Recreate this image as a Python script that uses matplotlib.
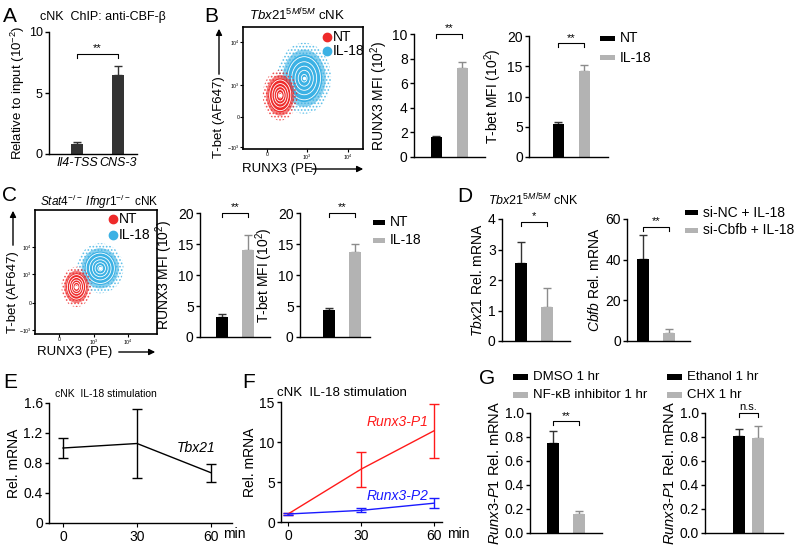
import matplotlib.pyplot as plt
from matplotlib.patches import Ellipse, FancyArrowPatch, Rectangle

plt.rcParams['font.family'] = ['Liberation Sans', 'DejaVu Sans']
plt.rcParams['mathtext.fontset'] = 'custom'
plt.rcParams['mathtext.rm'] = 'Liberation Sans'
plt.rcParams['mathtext.it'] = 'Liberation Sans:italic'
plt.rcParams['mathtext.bf'] = 'Liberation Sans:bold'
plt.rcParams['font.size'] = 8.5
plt.rcParams['axes.linewidth'] = 1.0
plt.rcParams['hatch.linewidth'] = 0.8

BLACK = '#000000'
GRAY = '#b3b3b3'
DARK = '#333333'
RED = '#ee2a2a'
BLUE = '#3bb1e4'

# ---- data ----
A_SITES = ['Il4-TSS', 'CNS-3']
A_VALS = [0.8, 6.5]
A_ERR = [0.15, 0.7]

B_RUNX3 = [1.6, 7.2]
B_RUNX3_ERR = [0.12, 0.55]
B_TBET = [5.4, 14.2]
B_TBET_ERR = [0.45, 0.95]

C_RUNX3 = [3.3, 14.1]
C_RUNX3_ERR = [0.35, 2.3]
C_TBET = [4.3, 13.7]
C_TBET_ERR = [0.35, 1.3]

D_TBX21 = [2.55, 1.12]
D_TBX21_ERR = [0.68, 0.63]
D_CBFB = [40.5, 3.8]
D_CBFB_ERR = [11.5, 2.2]

G_NFKB = [0.75, 0.16]
G_NFKB_ERR = [0.10, 0.02]
G_CHX = [0.81, 0.79]
G_CHX_ERR = [0.06, 0.10]
G_TICKS = [0, 0.2, 0.4, 0.6, 0.8, 1.0]
G_TICKLABELS = ['0.0', '0.2', '0.4', '0.6', '0.8', '1.0']

TIME = [0, 30, 60]
E_TBX21 = [1.00, 1.06, 0.67]
E_TBX21_ERR = [0.13, 0.46, 0.12]
F_P1 = [1.0, 6.6, 11.4]
F_P1_ERR = [0.15, 2.2, 3.35]
F_P2 = [1.0, 1.45, 2.35]
F_P2_ERR = [0.1, 0.25, 0.6]

# flow populations: centre x, centre y, width, height (fraction of plot box)
B_FLOW_NT = [0.31, 0.44, 0.26, 0.37]
B_FLOW_IL18 = [0.51, 0.58, 0.40, 0.52]
C_FLOW_NT = [0.34, 0.38, 0.22, 0.29]
C_FLOW_IL18 = [0.535, 0.53, 0.34, 0.36]

W, H = 796, 546
fig = plt.figure(figsize=(W / 100, H / 100), dpi=100)


def box(x0, y0, x1, y1):
    # axes placed by pixel edges, measured from top-left
    return fig.add_axes([x0 / W, 1 - y1 / H, (x1 - x0) / W, (y1 - y0) / H])


def ftext(x, y, s, **kw):
    return fig.text(x / W, 1 - y / H, s, **kw)


def farrow(x0, y0, x1, y1):
    fig.add_artist(FancyArrowPatch((x0 / W, 1 - y0 / H), (x1 / W, 1 - y1 / H),
                                   transform=fig.transFigure, arrowstyle='-|>',
                                   mutation_scale=9, lw=1.0, color='k'))


def legend_items(x, ys, labels, colors, w=15, h=6, fs=9):
    for y, lab, col in zip(ys, labels, colors):
        fig.add_artist(Rectangle((x / W, 1 - (y + h / 2) / H), w / W, h / H,
                                 transform=fig.transFigure, color=col, lw=0))
        ftext(x + w + 5, y, lab, va='center', fontsize=fs)


def style(ax):
    ax.spines['top'].set_visible(False)
    ax.spines['right'].set_visible(False)
    ax.tick_params(axis='y', length=3, width=1, pad=1.5)


def bar_panel(px, bar_px, vals, errs, colors, ymax, yticks, ylabel,
              sig=None, sig_y=None, bw=12, tfs=10, lfs=10):
    x0, y0, x1, y1 = px
    ax = box(x0, y0, x1, y1)
    unit = bar_px[1] - bar_px[0]
    ax.set_xlim(-(bar_px[0] - x0) / unit, (x1 - bar_px[0]) / unit)
    ax.set_ylim(0, ymax)
    ax.bar([0, 1], vals, width=bw / unit, color=colors, zorder=2)
    for i in range(2):
        ax.errorbar(i, vals[i], yerr=[[0], [errs[i]]], fmt='none',
                    ecolor=DARK if colors[i] != GRAY else '#8c8c8c',
                    elinewidth=1, capsize=3, capthick=1, zorder=1)
    ax.set_yticks(yticks)
    ax.tick_params(axis='y', labelsize=tfs)
    ax.set_xticks([])
    ax.set_ylabel(ylabel, fontsize=lfs, labelpad=2)
    style(ax)
    if sig:
        h = ymax * 0.03
        ax.plot([0, 0, 1, 1], [sig_y - h, sig_y, sig_y, sig_y - h], color='k',
                lw=0.8, clip_on=False)
        ax.text(0.5, sig_y + ymax * 0.005, sig, ha='center', va='bottom', fontsize=8)
    return ax


def flow_panel(px, xticks, xlabels, yticks, ylabels, nt, il18, leg_x, leg_y):
    ax = box(*px)
    ax.set_xlim(0, 1)
    ax.set_ylim(0, 1)
    for pop, col in ((il18, BLUE), (nt, RED)):
        cx, cy, w, h = pop
        # speckled fringe, dense band, solid core, white density contours
        ax.add_patch(Ellipse((cx, cy), w * 1.12, h * 1.12, fill=False, ec=col,
                             lw=0, hatch='.....', alpha=0.8))
        ax.add_patch(Ellipse((cx, cy), w * 0.9, h * 0.9, color=col, alpha=0.6, lw=0))
        ax.add_patch(Ellipse((cx, cy), w * 0.75, h * 0.75, color=col, lw=0))
        for s in (0.68, 0.52, 0.38, 0.25, 0.12):
            ax.add_patch(Ellipse((cx, cy), w * s, h * s, fill=False, ec='white', lw=0.6))
        ax.plot(cx, cy, 'o', ms=1.5, color='white')
    ax.set_xticks(xticks)
    ax.set_xticklabels(xlabels, fontsize=3.8)
    ax.set_yticks(yticks)
    ax.set_yticklabels(ylabels, fontsize=3.8)
    ax.tick_params(length=2, width=0.8, pad=0.5)
    for sp in ax.spines.values():
        sp.set_linewidth(1.2)
    ax.plot(leg_x, leg_y[0], 'o', ms=6, color=RED, transform=ax.transAxes, clip_on=False)
    ax.plot(leg_x, leg_y[1], 'o', ms=6, color=BLUE, transform=ax.transAxes, clip_on=False)
    ax.text(leg_x + 0.05, leg_y[0], 'NT', va='center', fontsize=10, transform=ax.transAxes)
    ax.text(leg_x + 0.05, leg_y[1], 'IL-18', va='center', fontsize=10, transform=ax.transAxes)
    return ax


# ---------------- panel letters ----------------
for lab, x, y in (('A', 3, 16), ('B', 204, 16), ('C', 2, 195), ('D', 457, 196),
                  ('E', 3, 382), ('F', 242, 382), ('G', 479, 379)):
    ftext(x, y, lab, fontsize=15, va='center')

# ---------------- A ----------------
ftext(40, 17, 'cNK  ChIP: anti-CBF-β', fontsize=9, va='center')
axA = bar_panel((49, 32, 137, 154), (77, 118), A_VALS, A_ERR, [DARK, DARK], 10,
                [0, 5, 10], r'Relative to input (10$^{-2}$)', '**', 8.2, tfs=9, lfs=9.5)
axA.yaxis.labelpad = 1
axA.set_xticks([0, 1])
axA.set_xticklabels(A_SITES, style='italic', fontsize=9)
axA.tick_params(axis='x', length=0, pad=2)

# ---------------- B ----------------
ftext(297, 15, r'$\mathit{Tbx21}^{\mathit{5M/5M}}$ cNK', fontsize=9.5, ha='center', va='center')
flow_panel((243, 27, 363, 149), [0.2, 0.533, 0.875], ['0', r'$10^3$', r'$10^4$'],
           [0.016, 0.262, 0.525, 0.877], [r'$-10^3$', '0', r'$10^3$', r'$10^4$'],
           B_FLOW_NT, B_FLOW_IL18, 0.70, (0.92, 0.80))
ftext(242, 169, 'RUNX3 (PE)', fontsize=9.5, va='center')
farrow(309, 169, 366, 169)
ftext(219, 117, 'T-bet (AF647)', fontsize=9.5, rotation=90, ha='center', va='center')
farrow(219, 77, 219, 26)

bar_panel((414, 34, 485, 157), (436, 462), B_RUNX3, B_RUNX3_ERR, [BLACK, GRAY], 10,
          [0, 2, 4, 6, 8, 10], r'RUNX3 MFI (10$^{2}$)', '**', 10, bw=11)
bar_panel((529, 36, 608, 157), (558, 584), B_TBET, B_TBET_ERR, [BLACK, GRAY], 20,
          [0, 5, 10, 15, 20], r'T-bet MFI (10$^{2}$)', '**', 18.8, bw=11)
legend_items(600, [38.5, 57.5], ['NT', 'IL-18'], [BLACK, GRAY], w=15, h=5, fs=10)

# ---------------- C ----------------
ftext(99, 202, r'$\mathit{Stat4}^{-/-}$ $\mathit{Ifngr1}^{-/-}$ cNK', fontsize=8.5,
      ha='center', va='center')
flow_panel((35, 210, 157, 334), [0.2, 0.48, 0.76], ['0', r'$10^3$', r'$10^4$'],
           [0.03, 0.25, 0.48, 0.70], [r'$-10^3$', '0', r'$10^3$', r'$10^4$'],
           C_FLOW_NT, C_FLOW_IL18, 0.64, (0.93, 0.80))
ftext(37, 352, 'RUNX3 (PE)', fontsize=9.5, va='center')
farrow(116, 352, 158, 352)
ftext(13, 292, 'T-bet (AF647)', fontsize=9.5, rotation=90, ha='center', va='center')
farrow(13, 248, 13, 208)

bar_panel((200, 213, 270, 337), (222, 248), C_RUNX3, C_RUNX3_ERR, [BLACK, GRAY], 20,
          [0, 5, 10, 15, 20], r'RUNX3 MFI (10$^{2}$)', '**', 20)
bar_panel((300, 213, 370, 337), (329, 355), C_TBET, C_TBET_ERR, [BLACK, GRAY], 20,
          [0, 5, 10, 15, 20], r'T-bet MFI (10$^{2}$)', '**', 20)
legend_items(373, [222, 240], ['NT', 'IL-18'], [BLACK, GRAY], w=12, h=5, fs=10)

# ---------------- D ----------------
ftext(488, 200, r'$\mathit{Tbx21}^{\mathit{5M/5M}}$ cNK', fontsize=9, va='center')
bar_panel((502, 219, 570, 341), (521, 547), D_TBX21, D_TBX21_ERR, [BLACK, GRAY], 4,
          [0, 1, 2, 3, 4], r'$\mathit{Tbx21}$ Rel. mRNA', '*', 3.9)
bar_panel((627, 219, 690, 341), (643, 669), D_CBFB, D_CBFB_ERR, [BLACK, GRAY], 60,
          [0, 20, 40, 60], r'$\mathit{Cbfb}$ Rel. mRNA', '**', 56)
legend_items(685, [213, 230], ['si-NC + IL-18', 'si-Cbfb + IL-18'], [BLACK, GRAY],
             w=13, h=5, fs=10)

# ---------------- E ----------------
ftext(55, 394, 'cNK  IL-18 stimulation', fontsize=7.5, va='center')
axE = box(49, 403, 232, 523)
axE.errorbar(TIME, E_TBX21, yerr=E_TBX21_ERR, color='k', lw=1, capsize=3.5, capthick=1)
axE.set_xlim(-5.7, 68.5)
axE.set_ylim(0, 1.6)
axE.set_yticks([0, 0.4, 0.8, 1.2, 1.6])
axE.set_yticklabels(['0', '0.4', '0.8', '1.2', '1.6'])
axE.set_xticks(TIME)
axE.tick_params(labelsize=10, length=3, pad=2)
axE.set_ylabel('Rel. mRNA', fontsize=10, labelpad=2)
style(axE)
ftext(223, 534, 'min', fontsize=10, va='center')
ftext(177, 448, 'Tbx21', fontsize=10, style='italic', va='center')

# ---------------- F ----------------
ftext(277, 393, 'cNK  IL-18 stimulation', fontsize=9.5, va='center')
axF = box(281, 402, 442, 522)
axF.errorbar(TIME, F_P1, yerr=F_P1_ERR, color='#ff1a1a', lw=1, capsize=3.5, capthick=1)
axF.errorbar(TIME, F_P2, yerr=F_P2_ERR, color='#1a1aff', lw=1, capsize=3.5, capthick=1)
axF.set_xlim(-2.9, 63.3)
axF.set_ylim(0, 15)
axF.set_yticks([0, 5, 10, 15])
axF.set_xticks(TIME)
axF.tick_params(labelsize=10, length=3, pad=2)
axF.set_ylabel('Rel. mRNA', fontsize=10, labelpad=2)
style(axF)
ftext(447, 534, 'min', fontsize=10, va='center')
ftext(367, 422, 'Runx3-P1', fontsize=10, style='italic', color='#ff1a1a', va='center')
ftext(367, 496, 'Runx3-P2', fontsize=10, style='italic', color='#1a1aff', va='center')

# ---------------- G ----------------
legend_items(513, [377, 395], ['DMSO 1 hr', 'NF-κB inhibitor 1 hr'], [BLACK, GRAY],
             w=15, h=6, fs=9.5)
legend_items(667, [377, 395], ['Ethanol 1 hr', 'CHX 1 hr'], [BLACK, GRAY],
             w=15, h=6, fs=9.5)
axG1 = bar_panel((530, 413, 602, 533), (553, 579), G_NFKB, G_NFKB_ERR, [BLACK, GRAY], 1.0,
                 G_TICKS, r'$\mathit{Runx3}$-$\mathit{P1}$ Rel. mRNA', '**', 0.93, lfs=10.5)
axG2 = bar_panel((705, 413, 783, 533), (739, 758), G_CHX, G_CHX_ERR, [BLACK, GRAY], 1.0,
                 G_TICKS, r'$\mathit{Runx3}$-$\mathit{P1}$ Rel. mRNA', 'n.s.', 1.0, lfs=10.5)
axG1.set_yticklabels(G_TICKLABELS)
axG2.set_yticklabels(G_TICKLABELS)

fig.savefig('out.png', dpi=100)
